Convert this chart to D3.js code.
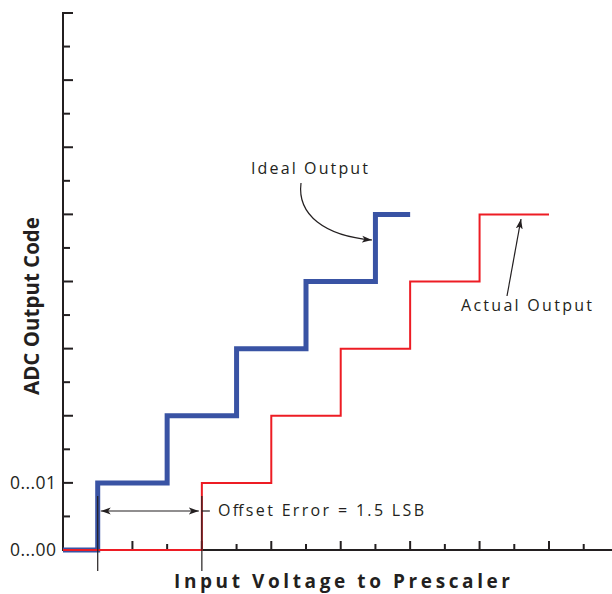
<!DOCTYPE html>
<html><head><meta charset="utf-8">
<script src="https://cdn.jsdelivr.net/npm/d3@7"></script>
<style>body{margin:0;background:#fff}svg{display:block}text{font-family:"Open Sans","Noto Sans",sans-serif;fill:#231f20}</style>
</head><body><svg id="c" width="612" height="594"></svg>
<script>
// Data (x in LSB units, y in output code units)
const idealX = [0, 0.5, 1.5, 2.5, 3.5, 4.5, 5.0];
const idealCode = [0, 1, 2, 3, 4, 5, 5];
const actualX = [0, 2, 3, 4, 5, 6, 7];
const actualCode = [0, 1, 2, 3, 4, 5, 5];
const yTickValues = d3.range(0, 8.01, 0.5);
const xTickValues = d3.range(0.5, 7.6, 0.5);
const yTickLabels = {0: "0...00", 1: "0...01"};
const offsetStart = 0.5, offsetEnd = 2.0;
const offsetLabel = "Offset Error = 1.5 LSB";

const svg = d3.select("#c");
const x = d3.scaleLinear().domain([0, 7]).range([63, 549]);
const y = d3.scaleLinear().domain([0, 8]).range([550, 13]);
const ink = "#231f20";

// axes
svg.append("line").attr("x1", x(0)).attr("x2", 612).attr("y1", y(0)).attr("y2", y(0)).attr("stroke", ink).attr("stroke-width", 2);
svg.append("line").attr("x1", x(0)).attr("x2", x(0)).attr("y1", y(8) - 1).attr("y2", y(0) + 1).attr("stroke", ink).attr("stroke-width", 2);
svg.selectAll(".yt").data(yTickValues.filter(d => d > 0)).enter().append("line")
  .attr("x1", x(0)).attr("x2", d => x(0) + (Number.isInteger(d) ? 10 : 7))
  .attr("y1", d => y(d)).attr("y2", d => y(d)).attr("stroke", ink).attr("stroke-width", 2);
svg.selectAll(".xt").data(xTickValues).enter().append("line")
  .attr("x1", d => x(d)).attr("x2", d => x(d))
  .attr("y1", y(0)).attr("y2", d => y(0) - (Number.isInteger(d) ? 9 : 6))
  .attr("stroke", ink).attr("stroke-width", 2);
svg.selectAll(".yl").data(Object.keys(yTickLabels).map(Number)).enter().append("text")
  .attr("x", 10).attr("y", d => y(d) + 6).attr("font-size", 17.5)
  .attr("textLength", 46).attr("lengthAdjust", "spacing")
  .text(d => yTickLabels[d]);

// axis titles
svg.append("text").attr("transform", "translate(39,306) rotate(-90)").attr("text-anchor", "middle")
  .attr("font-size", 20.5).attr("font-weight", "bold").text("ADC Output Code");
svg.append("text").attr("x", 174).attr("y", 588).attr("font-size", 19).attr("font-weight", "bold")
  .attr("textLength", 336).attr("lengthAdjust", "spacing").text("Input Voltage to Prescaler");

// step lines
const line = d3.line().curve(d3.curveStepAfter);
svg.append("path").attr("d", line(idealX.map((v, i) => [x(v), y(idealCode[i])])))
  .attr("fill", "none").attr("stroke", "#3953a4").attr("stroke-width", 5).attr("stroke-linejoin", "miter");
svg.append("path").attr("d", line(actualX.map((v, i) => [x(v), y(actualCode[i])])))
  .attr("fill", "none").attr("stroke", "#ed1c24").attr("stroke-width", 2);

// offset dimension
const defs = svg.append("defs");
defs.append("marker").attr("id", "ah").attr("viewBox", "0 0 10 10").attr("refX", 10).attr("refY", 5)
  .attr("markerWidth", 10).attr("markerHeight", 10).attr("markerUnits", "userSpaceOnUse").attr("orient", "auto-start-reverse")
  .append("path").attr("d", "M0,1.5 L10,5 L0,8.5 L2.5,5 Z").attr("fill", ink);
[offsetStart, offsetEnd].forEach(v => {
  svg.append("line").attr("x1", x(v)).attr("x2", x(v)).attr("y1", 496).attr("y2", 571).attr("stroke", ink).attr("stroke-width", 1.2);
});
svg.append("line").attr("x1", x(offsetStart) + 3).attr("x2", x(offsetEnd) - 3).attr("y1", 511).attr("y2", 511)
  .attr("stroke", ink).attr("stroke-width", 1.2).attr("marker-start", "url(#ah)").attr("marker-end", "url(#ah)");
svg.append("line").attr("x1", x(offsetEnd)).attr("x2", x(offsetEnd) + 8).attr("y1", 511).attr("y2", 511).attr("stroke", ink).attr("stroke-width", 1.2);
svg.append("text").attr("x", 218).attr("y", 516).attr("font-size", 16).attr("textLength", 206).attr("lengthAdjust", "spacing").text(offsetLabel);

// annotations
svg.append("text").attr("x", 251).attr("y", 174).attr("font-size", 16).attr("textLength", 117).attr("lengthAdjust", "spacing").text("Ideal Output");
svg.append("path").attr("d", "M301,183 C297,215 325,236 372,240").attr("fill", "none").attr("stroke", ink).attr("stroke-width", 1.2).attr("marker-end", "url(#ah)");
svg.append("text").attr("x", 461).attr("y", 311).attr("font-size", 16).attr("textLength", 131).attr("lengthAdjust", "spacing").text("Actual Output");
svg.append("line").attr("x1", 507).attr("y1", 296).attr("x2", 521).attr("y2", 219).attr("stroke", ink).attr("stroke-width", 1.2).attr("marker-end", "url(#ah)");
</script></body></html>
